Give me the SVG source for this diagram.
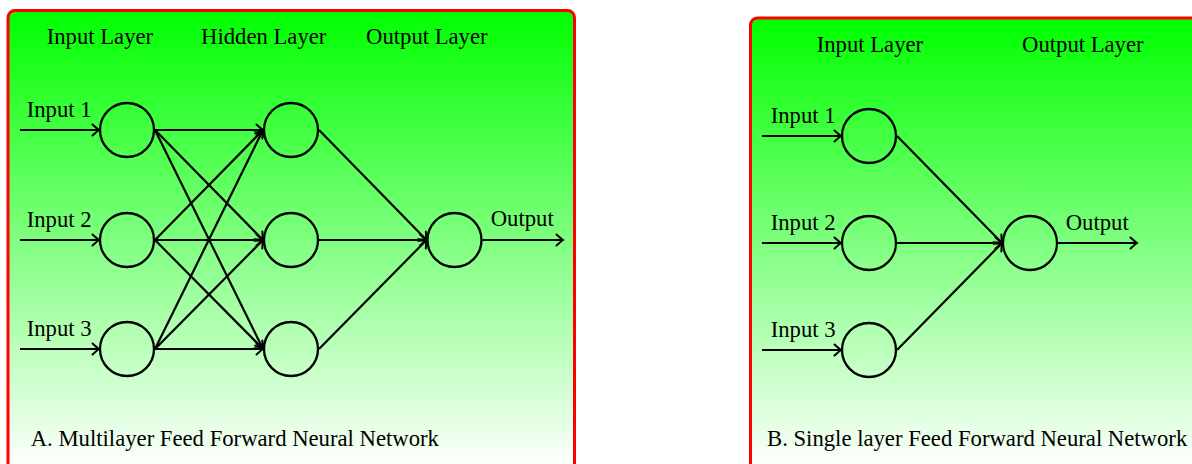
<svg xmlns="http://www.w3.org/2000/svg" width="1192" height="464" viewBox="0 0 1192 464">
<style>
.frame{stroke:#ff0000;stroke-width:3}
.node{fill:none;stroke:#000;stroke-width:2.3}
.edge{fill:none;stroke:#000;stroke-width:2.2;marker-end:url(#tip)}
text{font-family:"Liberation Serif","Times New Roman",serif;font-size:22.7px;fill:#000}
</style>
<defs>
<linearGradient id="gA" gradientUnits="userSpaceOnUse" x1="0" y1="10" x2="0" y2="470">
<stop offset="0" stop-color="#00ff00"/><stop offset="1" stop-color="#ffffff"/>
</linearGradient>
<linearGradient id="gB" gradientUnits="userSpaceOnUse" x1="0" y1="18" x2="0" y2="470">
<stop offset="0" stop-color="#00ff00"/><stop offset="1" stop-color="#ffffff"/>
</linearGradient>
<marker id="tip" markerUnits="userSpaceOnUse" markerWidth="14" markerHeight="14" viewBox="-8 -7 10 14" refX="0" refY="0" orient="auto">
<path d="M -6.5 -5.5 Q -1.5 -1 0 0 Q -1.5 1 -6.5 5.5" fill="none" stroke="#000" stroke-width="2" stroke-linecap="round"/>
</marker>
</defs>

<g id="panelA">
<rect class="frame" x="8" y="10.5" width="566.5" height="470" rx="7" fill="url(#gA)"/>
<text x="46.7" y="44">Input Layer</text>
<text x="201" y="44">Hidden Layer</text>
<text x="366" y="44">Output Layer</text>
<text x="30.7" y="445.5">A. Multilayer Feed Forward Neural Network</text>
</g>
<g id="panelB">
<rect class="frame" x="750.5" y="18" width="460" height="470" rx="7" fill="url(#gB)"/>
<text x="816.7" y="51.5">Input Layer</text>
<text x="1022" y="51.5">Output Layer</text>
<text x="767" y="445.5">B. Single layer Feed Forward Neural Network</text>
</g>

<g id="connectors">
<line class="edge" x1="20" y1="130" x2="99" y2="130"/>
<line class="edge" x1="20" y1="240" x2="99" y2="240"/>
<line class="edge" x1="20" y1="349" x2="99" y2="349"/>
<line class="edge" x1="155" y1="130" x2="263" y2="130"/>
<line class="edge" x1="155" y1="130" x2="263" y2="240"/>
<line class="edge" x1="155" y1="130" x2="263" y2="349"/>
<line class="edge" x1="155" y1="240" x2="263" y2="130"/>
<line class="edge" x1="155" y1="240" x2="263" y2="240"/>
<line class="edge" x1="155" y1="240" x2="263" y2="349"/>
<line class="edge" x1="155" y1="349" x2="263" y2="130"/>
<line class="edge" x1="155" y1="349" x2="263" y2="240"/>
<line class="edge" x1="155" y1="349" x2="263" y2="349"/>
<line class="edge" x1="319" y1="130" x2="426.5" y2="240"/>
<line class="edge" x1="319" y1="240" x2="426.5" y2="240"/>
<line class="edge" x1="319" y1="349" x2="426.5" y2="240"/>
<line class="edge" x1="482.5" y1="240" x2="563" y2="240"/>
<line class="edge" x1="762" y1="136" x2="841" y2="136"/>
<line class="edge" x1="762" y1="243" x2="841" y2="243"/>
<line class="edge" x1="762" y1="350" x2="841" y2="350"/>
<line class="edge" x1="897" y1="136" x2="1002" y2="243"/>
<line class="edge" x1="897" y1="243" x2="1002" y2="243"/>
<line class="edge" x1="897" y1="350" x2="1002" y2="243"/>
<line class="edge" x1="1058" y1="243" x2="1137" y2="243"/>
</g>

<g id="a-in1"><circle class="node" cx="127" cy="130" r="27"/><text x="26.7" y="116.7">Input 1</text></g>
<g id="a-in2"><circle class="node" cx="127" cy="240" r="27"/><text x="26.7" y="226.5">Input 2</text></g>
<g id="a-in3"><circle class="node" cx="127" cy="349" r="27"/><text x="26.7" y="335.5">Input 3</text></g>
<g id="a-h1"><circle class="node" cx="291" cy="130" r="27"/></g>
<g id="a-h2"><circle class="node" cx="291" cy="240" r="27"/></g>
<g id="a-h3"><circle class="node" cx="291" cy="349" r="27"/></g>
<g id="a-out"><circle class="node" cx="454.5" cy="240" r="27"/><text x="490.7" y="225.7">Output</text></g>

<g id="b-in1"><circle class="node" cx="869" cy="136" r="27"/><text x="770.7" y="123.3">Input 1</text></g>
<g id="b-in2"><circle class="node" cx="869" cy="243" r="27"/><text x="770.7" y="230">Input 2</text></g>
<g id="b-in3"><circle class="node" cx="869" cy="350" r="27"/><text x="770.7" y="337">Input 3</text></g>
<g id="b-out"><circle class="node" cx="1030" cy="243" r="27"/><text x="1065.7" y="230">Output</text></g>
</svg>
